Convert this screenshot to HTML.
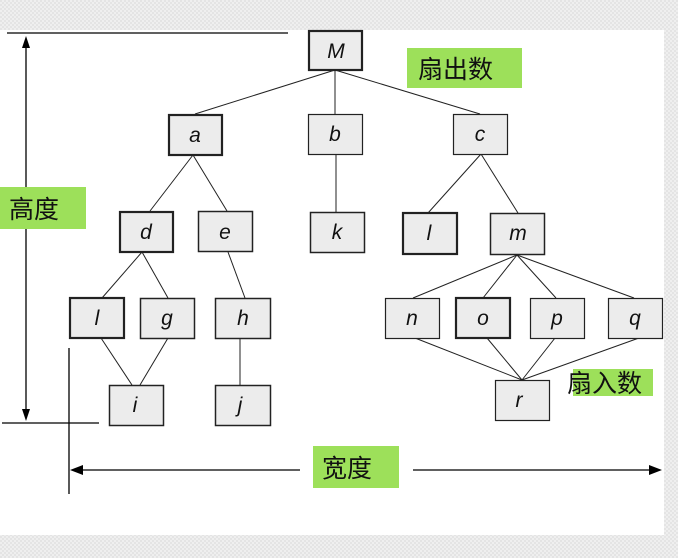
<!DOCTYPE html>
<html><head><meta charset="utf-8"><style>
html,body{margin:0;padding:0;width:678px;height:558px;overflow:hidden;background:#eeeeee}
svg{display:block}
text{font-family:"Liberation Sans","Noto Sans CJK SC",sans-serif}
</style></head><body>
<svg width="678" height="558" viewBox="0 0 678 558" xmlns="http://www.w3.org/2000/svg">
<defs>
<pattern id="pt" width="4" height="4" patternUnits="userSpaceOnUse">
<rect width="4" height="4" fill="#efefef"/><rect width="2" height="2" fill="#e4e4e4"/><rect x="2" y="2" width="2" height="2" fill="#e4e4e4"/>
</pattern>
</defs>
<rect width="678" height="558" fill="url(#pt)"/>
<rect x="0" y="30" width="664" height="505" fill="#fff"/>
<g stroke="#222" stroke-width="1" fill="none">
<line x1="335" y1="70" x2="195" y2="114"/>
<line x1="335" y1="70" x2="335" y2="114"/>
<line x1="335" y1="70" x2="480" y2="114"/>
<line x1="193" y1="155" x2="150" y2="211"/>
<line x1="193" y1="155" x2="227" y2="211"/>
<line x1="336" y1="155" x2="336" y2="212"/>
<line x1="481" y1="154" x2="428" y2="213"/>
<line x1="481" y1="154" x2="518" y2="213"/>
<line x1="142" y1="252" x2="102" y2="298"/>
<line x1="142" y1="252" x2="168" y2="298"/>
<line x1="228" y1="252" x2="245" y2="298"/>
<line x1="517" y1="255" x2="413" y2="298"/>
<line x1="517" y1="255" x2="483" y2="298"/>
<line x1="517" y1="255" x2="556" y2="298"/>
<line x1="517" y1="255" x2="634" y2="298"/>
<line x1="101" y1="338" x2="132" y2="385"/>
<line x1="168" y1="338" x2="140" y2="385"/>
<line x1="240" y1="338" x2="240" y2="385"/>
<line x1="415" y1="338" x2="522" y2="380"/>
<line x1="487" y1="338" x2="522" y2="380"/>
<line x1="555" y1="338" x2="522" y2="380"/>
<line x1="639" y1="338" x2="522" y2="380"/>
</g>
<g stroke="#000" stroke-width="1.3" fill="none">
<line x1="7" y1="33" x2="288" y2="33"/>
<line x1="26" y1="44" x2="26" y2="410"/>
<line x1="2" y1="423" x2="99" y2="423"/>
<line x1="69" y1="348" x2="69" y2="494"/>
<line x1="80" y1="470" x2="300" y2="470"/>
<line x1="413" y1="470" x2="652" y2="470"/>
</g>
<g fill="#000">
<polygon points="26,36 22,48 30,48"/>
<polygon points="26,421 22,409 30,409"/>
<polygon points="70,470 83,465 83,475"/>
<polygon points="662,470 649,465 649,475"/>
</g>
<g fill="#ececec" stroke="#222">
<rect x="309" y="31" width="53" height="39" stroke-width="2.2"/>
<rect x="169" y="115" width="53" height="40" stroke-width="2.2"/>
<rect x="308.5" y="114.5" width="54" height="40" stroke-width="1.2"/>
<rect x="453.5" y="114.5" width="54" height="40" stroke-width="1.2"/>
<rect x="120" y="212" width="53" height="40" stroke-width="2.2"/>
<rect x="198.5" y="211.5" width="54" height="40" stroke-width="1.5"/>
<rect x="310.5" y="212.5" width="54" height="40" stroke-width="1.5"/>
<rect x="403" y="213" width="54" height="41" stroke-width="2.2"/>
<rect x="490.5" y="213.5" width="54" height="41" stroke-width="1.5"/>
<rect x="70" y="298" width="54" height="40" stroke-width="2.2"/>
<rect x="140.5" y="298.5" width="54" height="40" stroke-width="1.5"/>
<rect x="215.5" y="298.5" width="55" height="40" stroke-width="1.5"/>
<rect x="385.5" y="298.5" width="54" height="40" stroke-width="1.2"/>
<rect x="456" y="298" width="54" height="40" stroke-width="2.2"/>
<rect x="530.5" y="298.5" width="54" height="40" stroke-width="1.2"/>
<rect x="608.5" y="298.5" width="54" height="40" stroke-width="1.2"/>
<rect x="109.5" y="385.5" width="54" height="40" stroke-width="1.5"/>
<rect x="215.5" y="385.5" width="55" height="40" stroke-width="1.5"/>
<rect x="495.5" y="380.5" width="54" height="40" stroke-width="1.2"/>
</g>
<g font-size="21" font-style="italic" text-anchor="middle" fill="#111">
<text x="336" y="58">M</text>
<text x="195" y="142">a</text>
<text x="335" y="141">b</text>
<text x="480" y="141">c</text>
<text x="146" y="239">d</text>
<text x="225" y="239">e</text>
<text x="337" y="239">k</text>
<text x="429" y="240">l</text>
<text x="518" y="240">m</text>
<text x="97" y="325">l</text>
<text x="167" y="325">g</text>
<text x="243" y="325">h</text>
<text x="412" y="325">n</text>
<text x="483" y="325">o</text>
<text x="557" y="325">p</text>
<text x="635" y="325">q</text>
<text x="135" y="412">i</text>
<text x="240" y="412">j</text>
<text x="519" y="407">r</text>
</g>
<g fill="#9de05a">
<rect x="407" y="48" width="115" height="40"/>
<rect x="0" y="187" width="86" height="42"/>
<rect x="573" y="369" width="80" height="27"/>
<rect x="313" y="446" width="86" height="42"/>
</g>
<g font-size="25" fill="#111">
<text x="418" y="78">扇出数</text>
<text x="9" y="218">高度</text>
<text x="567" y="392">扇入数</text>
<text x="322" y="477">宽度</text>
</g>
</svg>
</body></html>
